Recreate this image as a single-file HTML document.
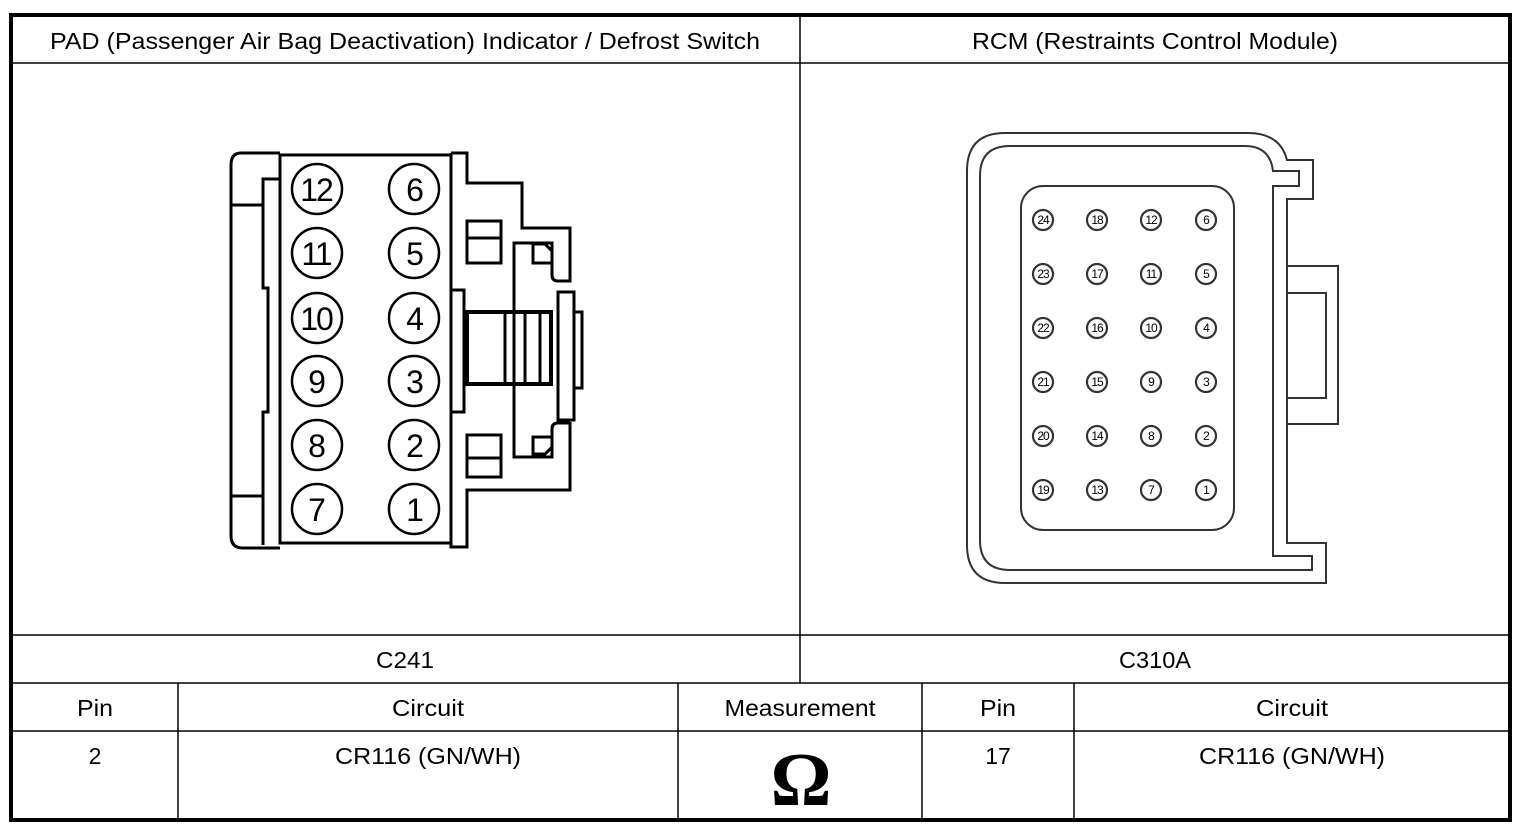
<!DOCTYPE html>
<html><head><meta charset="utf-8"><style>
html,body{margin:0;padding:0;background:#fff;}
svg{display:block;}
text{font-family:"Liberation Sans",sans-serif;fill:#000;}
</style></head><body>
<svg width="1526" height="830" viewBox="0 0 1526 830" xmlns="http://www.w3.org/2000/svg">
<rect x="0" y="0" width="1526" height="830" fill="#fff"/>
<g stroke="#000" stroke-width="1.5" fill="none">
<line x1="11" y1="63" x2="1511" y2="63"/>
<line x1="11" y1="635" x2="1511" y2="635"/>
<line x1="11" y1="683" x2="1511" y2="683"/>
<line x1="11" y1="731" x2="1511" y2="731"/>
<line x1="800" y1="15" x2="800" y2="683"/>
<line x1="178" y1="683" x2="178" y2="820"/>
<line x1="678" y1="683" x2="678" y2="820"/>
<line x1="922" y1="683" x2="922" y2="820"/>
<line x1="1074" y1="683" x2="1074" y2="820"/>
</g>
<rect x="11" y="15" width="1499" height="805" fill="none" stroke="#000" stroke-width="4"/>
<g font-size="23" text-anchor="middle">
<text x="405" y="49" textLength="710" lengthAdjust="spacingAndGlyphs">PAD (Passenger Air Bag Deactivation) Indicator / Defrost Switch</text>
<text x="1155" y="49" textLength="366" lengthAdjust="spacingAndGlyphs">RCM (Restraints Control Module)</text>
<text x="405" y="668" textLength="58" lengthAdjust="spacingAndGlyphs">C241</text>
<text x="1155" y="668" textLength="72" lengthAdjust="spacingAndGlyphs">C310A</text>
<text x="95" y="716" textLength="36" lengthAdjust="spacingAndGlyphs">Pin</text>
<text x="428" y="716" textLength="72" lengthAdjust="spacingAndGlyphs">Circuit</text>
<text x="800" y="716" textLength="151" lengthAdjust="spacingAndGlyphs">Measurement</text>
<text x="998" y="716" textLength="36" lengthAdjust="spacingAndGlyphs">Pin</text>
<text x="1292" y="716" textLength="72" lengthAdjust="spacingAndGlyphs">Circuit</text>
<text x="95" y="764">2</text>
<text x="428" y="764" textLength="186" lengthAdjust="spacingAndGlyphs">CR116 (GN/WH)</text>
<text x="998" y="764">17</text>
<text x="1292" y="764" textLength="186" lengthAdjust="spacingAndGlyphs">CR116 (GN/WH)</text>
</g>
<text x="801" y="805" font-size="76" font-weight="bold" text-anchor="middle" style="font-family:'Liberation Serif',serif">Ω</text>

<!-- Left connector -->
<g stroke="#000" stroke-width="3" fill="none">
<path d="M280,153 H241 Q231,153 231,165 V536 Q231,548 243,548 H280"/>
<line x1="231" y1="205" x2="262" y2="205"/>
<line x1="231" y1="496" x2="262" y2="496"/>
<path d="M280,179 H263 V288 H268 V412 H263 V545"/>
<rect x="280" y="155" width="171" height="388"/>
<path d="M451,153 H467 V183 H522 V228 H570 V278"/>
<path d="M451,153 V290 H464 V412 H451 V547 H467 V490 H570 V422"/>
<rect x="467" y="221" width="34" height="42"/>
<line x1="467" y1="238" x2="501" y2="238"/>
<rect x="467" y="435" width="34" height="42"/>
<line x1="467" y1="458" x2="501" y2="458"/>
<path d="M514,384 V243 H552 V275 Q552,281 558,281 H570 V278"/>
<path d="M533,244 H545 L552,251 V263 H533 Z"/>
<path d="M514,384 V457 H552 V429 Q552,423 558,423 H570 V422"/>
<path d="M533,437 H552 V447 L545,454 H533 Z"/>
<rect x="558" y="292" width="16" height="128"/>
<rect x="574" y="312" width="8" height="76"/>
<rect x="467" y="312" width="84" height="72" stroke-width="4"/>
<line x1="505" y1="312" x2="505" y2="384"/>
<line x1="525" y1="312" x2="525" y2="384"/>
<line x1="540" y1="312" x2="540" y2="384"/>
</g>
<g stroke="#000" stroke-width="2.5" fill="#fff">
<circle cx="317" cy="189" r="25"/><circle cx="414" cy="189" r="25"/>
<circle cx="317" cy="253" r="25"/><circle cx="414" cy="253" r="25"/>
<circle cx="317" cy="318" r="25"/><circle cx="414" cy="318" r="25"/>
<circle cx="317" cy="381" r="25"/><circle cx="414" cy="381" r="25"/>
<circle cx="317" cy="445" r="25"/><circle cx="414" cy="445" r="25"/>
<circle cx="317" cy="509" r="25"/><circle cx="414" cy="509" r="25"/>
</g>
<g font-size="32" text-anchor="middle" letter-spacing="-2">
<text x="316" y="201">12</text><text x="414" y="201">6</text>
<text x="316" y="265">11</text><text x="414" y="265">5</text>
<text x="316" y="330">10</text><text x="414" y="330">4</text>
<text x="316" y="393">9</text><text x="414" y="393">3</text>
<text x="316" y="457">8</text><text x="414" y="457">2</text>
<text x="316" y="521">7</text><text x="414" y="521">1</text>
</g>

<!-- Right connector -->
<g stroke="#333" stroke-width="2" fill="none">
<path d="M1005,133 H1248 Q1280,133 1287,160 H1313 V199 H1287 V543 H1326 V583 H1005 Q967,583 967,545 V171 Q967,133 1005,133 Z"/>
<path d="M1010,146 H1245 Q1270,146 1273,171 H1299 V186 H1273 V556 H1312 V570 H1010 Q980,570 980,540 V176 Q980,146 1010,146 Z"/>
<rect x="1021" y="186" width="213" height="344" rx="22"/>
<path d="M1287,266 H1338 V424 H1287"/>
<path d="M1287,293 H1326 V398 H1287"/>
</g>
<g stroke="#333" stroke-width="2.2" fill="#fff">
<circle cx="1043" cy="220" r="10"/><circle cx="1097" cy="220" r="10"/><circle cx="1151" cy="220" r="10"/><circle cx="1206" cy="220" r="10"/>
<circle cx="1043" cy="274" r="10"/><circle cx="1097" cy="274" r="10"/><circle cx="1151" cy="274" r="10"/><circle cx="1206" cy="274" r="10"/>
<circle cx="1043" cy="328" r="10"/><circle cx="1097" cy="328" r="10"/><circle cx="1151" cy="328" r="10"/><circle cx="1206" cy="328" r="10"/>
<circle cx="1043" cy="382" r="10"/><circle cx="1097" cy="382" r="10"/><circle cx="1151" cy="382" r="10"/><circle cx="1206" cy="382" r="10"/>
<circle cx="1043" cy="436" r="10"/><circle cx="1097" cy="436" r="10"/><circle cx="1151" cy="436" r="10"/><circle cx="1206" cy="436" r="10"/>
<circle cx="1043" cy="490" r="10"/><circle cx="1097" cy="490" r="10"/><circle cx="1151" cy="490" r="10"/><circle cx="1206" cy="490" r="10"/>
</g>
<g font-size="12" text-anchor="middle" fill="#333" letter-spacing="-1">
<text x="1043" y="224">24</text><text x="1097" y="224">18</text><text x="1151" y="224">12</text><text x="1206" y="224">6</text>
<text x="1043" y="278">23</text><text x="1097" y="278">17</text><text x="1151" y="278">11</text><text x="1206" y="278">5</text>
<text x="1043" y="332">22</text><text x="1097" y="332">16</text><text x="1151" y="332">10</text><text x="1206" y="332">4</text>
<text x="1043" y="386">21</text><text x="1097" y="386">15</text><text x="1151" y="386">9</text><text x="1206" y="386">3</text>
<text x="1043" y="440">20</text><text x="1097" y="440">14</text><text x="1151" y="440">8</text><text x="1206" y="440">2</text>
<text x="1043" y="494">19</text><text x="1097" y="494">13</text><text x="1151" y="494">7</text><text x="1206" y="494">1</text>
</g>
</svg>
</body></html>
